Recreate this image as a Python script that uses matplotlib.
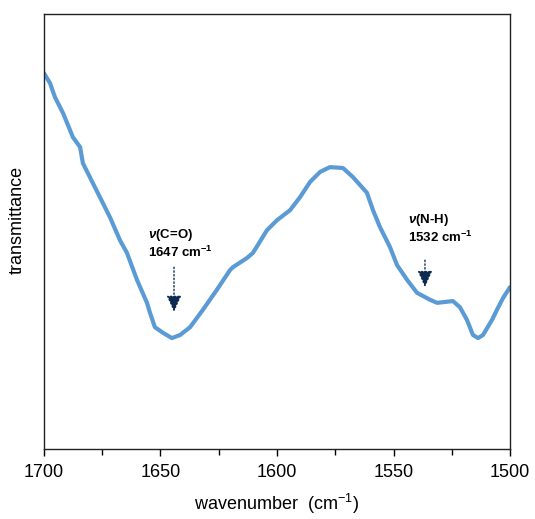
import numpy as np
import matplotlib
matplotlib.use("Agg")
import matplotlib.pyplot as plt

plt.rcParams['font.family'] = ['Liberation Sans', 'DejaVu Sans']
plt.rcParams['mathtext.fontset'] = 'custom'
plt.rcParams['mathtext.rm'] = 'Liberation Sans'
plt.rcParams['mathtext.it'] = 'Liberation Sans:italic:bold'
plt.rcParams['mathtext.bf'] = 'Liberation Sans:bold'
plt.rcParams['mathtext.default'] = 'regular'

# IR spectrum (wavenumber in cm-1, transmittance in arbitrary units)
wavenumber = [1700, 1697.4, 1695.3, 1691.8, 1687.6, 1684.5, 1683.3, 1679.0, 1676.0,
              1671.7, 1667.4, 1664.4, 1660.1, 1655.8, 1654.5, 1652.4, 1648.9, 1645.1,
              1641.6, 1637.3, 1631.8, 1625.8, 1620.2, 1618.9, 1612.9, 1610.3, 1604.3,
              1600.0, 1594.4, 1590.1, 1585.8, 1581.5, 1577.3, 1571.7, 1567.4, 1561.4,
              1558.8, 1555.8, 1551.5, 1548.5, 1544.2, 1539.9, 1534.3, 1531.3, 1524.5,
              1521.5, 1518.5, 1515.9, 1513.7, 1511.6, 1507.7, 1505.6, 1503.0, 1500.0]
transmittance = [86.4, 84.1, 80.9, 77.2, 71.7, 69.4, 65.7, 61.1, 57.9,
                 53.3, 48.0, 45.1, 38.9, 33.6, 31.3, 28.0, 26.7, 25.5,
                 26.2, 28.0, 32.0, 36.6, 41.1, 41.8, 43.9, 45.1, 50.3,
                 52.6, 54.9, 57.9, 61.4, 63.7, 64.8, 64.6, 62.5, 58.9,
                 54.9, 51.0, 46.4, 42.3, 38.9, 35.9, 34.3, 33.6, 34.0,
                 32.6, 29.7, 26.2, 25.5, 26.2, 29.7, 32.0, 34.7, 37.2]

# peak labels: text, arrow position
peak_names = [r'$\mathit{\nu}$(C=O)', r'$\mathit{\nu}$(N-H)']
peak_values = ['1647 cm$^{-1}$', '1532 cm$^{-1}$']
text_x = [1655.4, 1543.8]
text_y = [49.2, 52.6]
arrow_x = [1644.2, 1536.5]
arrow_top = [41.8, 43.4]
arrow_tip = [31.5, 37.2]

fig = plt.figure(figsize=(5.35, 5.19), dpi=100)
ax = fig.add_axes([0.0822, 0.1349, 0.8711, 0.8381])

ax.plot(wavenumber, transmittance, color='#5B9BD5', lw=3.0,
        solid_joinstyle='round', solid_capstyle='round')

for i in range(len(peak_names)):
    ax.text(text_x[i], text_y[i], peak_names[i], fontsize=9.5, fontweight='bold',
            ha='left', va='center')
    ax.text(text_x[i], text_y[i] - 3.9, peak_values[i], fontsize=9.5, fontweight='bold',
            ha='left', va='center')
    ax.annotate('', xy=(arrow_x[i], arrow_tip[i]), xytext=(arrow_x[i], arrow_top[i]),
                arrowprops=dict(arrowstyle='-|>,head_length=1.0,head_width=0.45',
                                color='#0E2A52', lw=1.0, ls=':',
                                shrinkA=0, shrinkB=0))

ax.set_xlim(1700, 1500)
ax.set_ylim(0, 100)
ax.set_xticks([1700, 1650, 1600, 1550, 1500])
ax.set_xticks([1675, 1625, 1575, 1525], minor=True)
ax.set_yticks([])
ax.tick_params(axis='x', which='major', direction='out', length=5, width=1,
               labelsize=13, pad=6)
ax.tick_params(axis='x', which='minor', direction='out', length=4, width=1)
for s in ax.spines.values():
    s.set_linewidth(1.0)
    s.set_color('#222222')

ax.set_xlabel('wavenumber  (cm$^{-1}$)', fontsize=13, labelpad=8)
ax.set_ylabel('transmittance', fontsize=13)
ax.yaxis.set_label_coords(-0.04, 0.526)

fig.savefig('out.png', dpi=100)
